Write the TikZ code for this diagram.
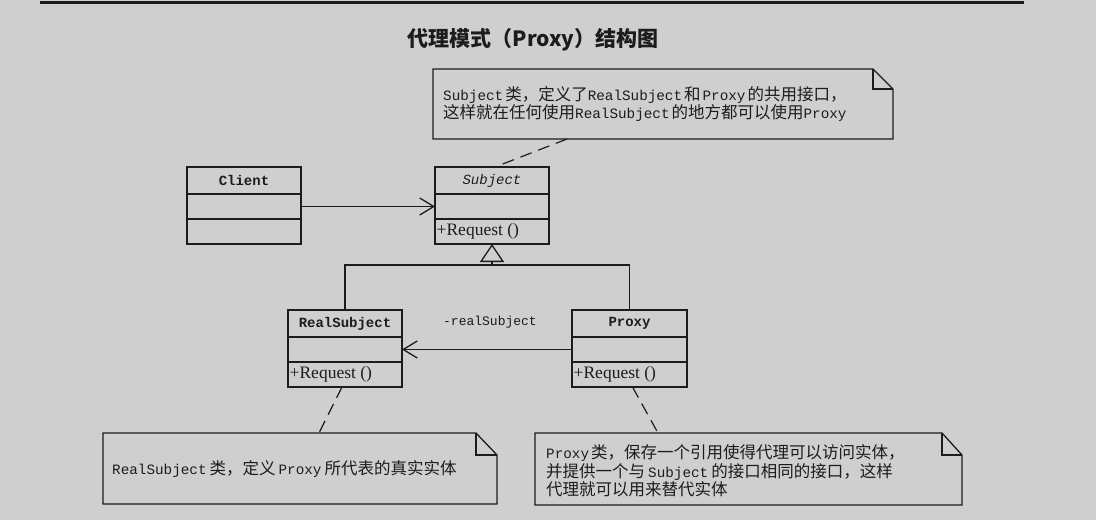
\documentclass[tikz,border=0pt]{standalone}
\usepackage{fontspec}
\setmainfont{Liberation Serif}
\newfontfamily\cjk{Noto Sans CJK SC}
\newfontfamily\mono{Liberation Mono}
\usetikzlibrary{arrows.meta}
\definecolor{bg}{RGB}{207,207,207}
\definecolor{ink}{RGB}{28,28,28}
\newcommand\M[1]{{\mono\fontsize{14.3}{18.5}\selectfont #1}}
\begin{document}
\begin{tikzpicture}[x=1pt,y=-1pt,
  part/.style={draw=ink, line width=1.3pt, minimum width=114pt, inner sep=0pt, outer sep=0pt},
  namepart/.style={part, minimum height=27pt, font=\mono\bfseries\fontsize{14}{16}\selectfont, text=ink},
  midpart/.style={part, minimum height=25pt},
  oppart/.style={part, minimum height=25pt},
  optext/.style={anchor=west, inner sep=0pt, font=\fontsize{17.5}{19}\selectfont, text=ink},
  notebox/.style={inner sep=0pt, outer sep=0pt},
  noteline/.style={draw=ink, line width=1.3pt},
  notetext/.style={anchor=west, align=left, inner sep=0pt, text=ink, font=\cjk\fontsize{16.5}{18.5}\selectfont},
  dep/.style={draw=ink, line width=1.2pt, dash pattern=on 12pt off 7pt},
  plain/.style={draw=ink, line width=1.3pt},
  assoc/.style={plain, -{Straight Barb[length=14pt,width=17pt,line width=1.3pt]}},
  gen/.style={plain, -{Triangle[open,length=18pt,width=24pt,fill=bg,line width=1.3pt]}}
]
\useasboundingbox (0,0) rectangle (1096,520);
\fill[bg] (0,0) rectangle (1096,520);
\draw[ink, line width=3pt] (40,2.5) -- (1024,2.5);

\node[font=\cjk\bfseries\fontsize{21}{24}\selectfont, text=ink] (title) at (533,40) {代理模式（Proxy）结构图};

% Client
\node[namepart] (clientn) at (244,180.5) {Client};
\node[midpart] (clienta) at (244,206.5) {};
\node[oppart] (cliento) at (244,231.5) {};

% Subject
\node[namepart, font=\mono\itshape\fontsize{14}{16}\selectfont] (subjectn) at (492,180.5) {Subject};
\node[midpart] (subjecta) at (492,206.5) {};
\node[oppart] (subjecto) at (492,231.5) {};
\node[optext] (subjectop) at ([xshift=1.5pt]subjecto.west) {+Request ()};

% RealSubject
\node[namepart] (realn) at (345,323.5) {RealSubject};
\node[midpart] (reala) at (345,349.5) {};
\node[oppart] (realo) at (345,374.5) {};
\node[optext] (realop) at ([xshift=1.5pt]realo.west) {+Request ()};

% Proxy
\node[namepart, minimum width=115pt] (proxyn) at (629.5,323.5) {Proxy};
\node[midpart, minimum width=115pt] (proxya) at (629.5,349.5) {};
\node[oppart, minimum width=115pt] (proxyo) at (629.5,374.5) {};
\node[optext] (proxyop) at ([xshift=1.5pt]proxyo.west) {+Request ()};

% associations
\draw[assoc] (clienta.east) -- (subjecta.west);
\draw[assoc] (proxya.west) -- (reala.east);
\node[font=\mono\fontsize{13}{15}\selectfont, text=ink] (lbl) at (490,322) {-realSubject};

% generalization
\coordinate (j) at (492,265);
\draw[gen] (j) -- (subjecto.south);
\draw[plain] (realn.north) |- (j) -| (proxyn.north);

% notes
\node[notebox, minimum width=460pt, minimum height=70pt] (n1) at (663,104) {};
\draw[noteline] (n1.north west) -- ([xshift=-20pt]n1.north east) -- ([yshift=-20pt]n1.north east) -- (n1.south east) -- (n1.south west) -- cycle;
\draw[noteline] ([xshift=-20pt]n1.north east) |- ([yshift=-20pt]n1.north east);
\node[notetext] (t1) at (443,104) {\M{Subject}\hspace{2pt}类，定义了\M{RealSubject}\hspace{2pt}和\hspace{2pt}\M{Proxy}\hspace{2pt}的共用接口，\\
这样就在任何使用\M{RealSubject}\hspace{2pt}的地方都可以使用\M{Proxy}};

\node[notebox, minimum width=394pt, minimum height=71pt] (n2) at (300,468.5) {};
\draw[noteline] (n2.north west) -- ([xshift=-21pt]n2.north east) -- ([yshift=-22pt]n2.north east) -- (n2.south east) -- (n2.south west) -- cycle;
\draw[noteline] ([xshift=-21pt]n2.north east) |- ([yshift=-22pt]n2.north east);
\node[notetext] (t2) at (112,469) {\M{RealSubject}\hspace{3pt}类，定义\hspace{3pt}\M{Proxy}\hspace{3pt}所代表的真实实体};

\node[notebox, minimum width=427pt, minimum height=72pt] (n3) at (748.5,469) {};
\draw[noteline] (n3.north west) -- ([xshift=-20pt]n3.north east) -- ([yshift=-22pt]n3.north east) -- (n3.south east) -- (n3.south west) -- cycle;
\draw[noteline] ([xshift=-20pt]n3.north east) |- ([yshift=-22pt]n3.north east);
\node[notetext] (t3) at (546,471) {\M{Proxy}\hspace{2pt}类，保存一个引用使得代理可以访问实体，\\
并提供一个与\hspace{3pt}\M{Subject}\hspace{3pt}的接口相同的接口，这样\\
代理就可以用来替代实体};

% note connectors
\draw[dep] ([xshift=-96pt]n1.south) -- ([xshift=3pt]subjectn.north);
\draw[dep] ([xshift=-3pt]realo.south) -- ([xshift=19pt]n2.north);
\draw[dep] ([xshift=3pt]proxyo.south) -- ([xshift=-90.5pt]n3.north);
\end{tikzpicture}
\end{document}
